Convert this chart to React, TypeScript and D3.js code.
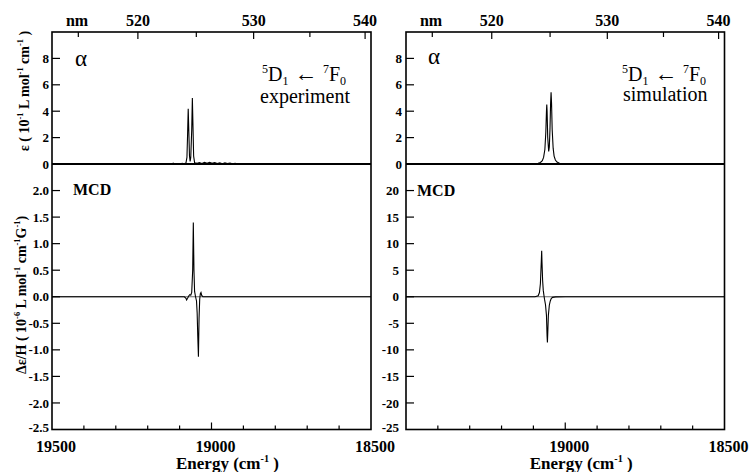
import React from 'react';
import * as d3 from 'd3';

// ---------- data ----------
const energyLabels = [19500, 19000, 18500];
const energyMinor = [19400, 19300, 19200, 19100, 18900, 18800, 18700, 18600];
const nmTicks = [515, 520, 525, 530, 535, 540];
const nmLabels = [520, 530, 540];
const absTicks = [0, 2, 4, 6, 8];
const mcdExpTicks = [2.0, 1.5, 1.0, 0.5, 0.0, -0.5, -1.0, -1.5, -2.0, -2.5];
const mcdSimTicks = [20, 15, 10, 5, 0, -5, -10, -15, -20, -25];

// [energy cm-1, epsilon]
const expAbs: [number, number][] = [
  [19500, 0], [19300, 0], [19125, 0], [19120, 0.06], [19116, 0], [19108, 0.04],
  [19100, 0], [19092, 0.05], [19086, 0.02], [19080, 0.08], [19077, 0.5], [19075, 2.2],
  [19073, 4.19], [19071, 2.4], [19069, 0.6], [19067, 0.2], [19065, 0.5], [19062, 2.6],
  [19060, 5.0], [19058, 2.8], [19056, 0.6], [19053, 0.1], [19045, 0.05], [19038, 0.1],
  [19030, 0.04], [19022, 0.12], [19014, 0.06], [19006, 0.13], [18998, 0.05], [18990, 0.1],
  [18982, 0.03], [18974, 0.09], [18966, 0.02], [18958, 0.08], [18950, 0.03], [18942, 0.07],
  [18934, 0.02], [18926, 0.06], [18918, 0], [18500, 0],
];
const expMcd: [number, number][] = [
  [19500, 0], [19100, 0], [19085, 0], [19080, -0.03], [19078, -0.06], [19075, -0.03],
  [19071, 0.02], [19068, 0.04], [19065, 0.03], [19062, 0.08], [19059, 0.5], [19057, 1.4],
  [19055, 0.5], [19053, 0.1], [19050, 0.0], [19047, -0.08], [19045, -0.3], [19043, -0.75],
  [19041, -1.13], [19039, -0.4], [19037, -0.05], [19035, 0.06], [19033, 0.08], [19031, 0.03],
  [19027, 0], [18500, 0],
];
const simAbs: [number, number][] = [
  [19500, 0], [19100, 0.02], [19085, 0.05], [19078, 0.12], [19072, 0.25], [19068, 0.5],
  [19064, 1.1], [19061, 2.4], [19059, 4.0], [19058, 4.5], [19057, 4.0], [19055, 2.0],
  [19052, 0.95], [19050, 1.3], [19048, 2.6], [19046, 4.6], [19044.5, 5.44], [19043, 4.6],
  [19041, 2.6], [19038, 1.2], [19035, 0.6], [19031, 0.3], [19026, 0.15], [19018, 0.06],
  [19000, 0.02], [18500, 0],
];
const simMcd: [number, number][] = [
  [19500, 0], [19095, 0], [19085, 0.2], [19081, 0.8], [19078, 2.5], [19075, 7.0],
  [19074, 8.66], [19073, 6.5], [19071, 3.0], [19069, 1.2], [19067, 0.3], [19065, -0.5],
  [19062, -1.5], [19059, -3.5], [19057, -7.5], [19056, -8.6], [19055, -7.0], [19053, -3.5],
  [19050, -1.6], [19047, -0.8], [19044, -0.35], [19040, -0.12], [19030, -0.03], [19000, 0],
  [18500, 0],
];

// ---------- layout ----------
const W = 749, H = 472;
const TOP = 32, MID = 164, BOT = 429.5;
const FONT = "'Liberation Serif', 'Times New Roman', serif";

type Seg = { t: string; s?: 'sup' | 'sub' | 'big' };
function rich(segs: Seg[], fs: number) {
  let cur = 0;
  return segs.map((sg, i) => {
    const target = sg.s === 'sup' ? -fs * 0.42 : sg.s === 'sub' ? fs * 0.2 : 0;
    const dy = target - cur;
    cur = target;
    const size = sg.s === 'big' ? fs * 1.15 : sg.s ? fs * 0.6 : fs;
    return (
      <tspan key={i} dy={dy} fontSize={size}>{sg.t}</tspan>
    );
  });
}

const absLabelSegs: Seg[] = [
  { t: 'ε ( 10' }, { t: '-1', s: 'sup' }, { t: ' L mol' }, { t: '-1', s: 'sup' },
  { t: ' cm' }, { t: '-1', s: 'sup' }, { t: ' )' },
];
const mcdLabelSegs: Seg[] = [
  { t: 'Δε/H ( 10' }, { t: '-6', s: 'sup' }, { t: ' L mol' }, { t: '-1', s: 'sup' },
  { t: ' cm' }, { t: '-1', s: 'sup' }, { t: 'G' }, { t: '-1', s: 'sup' }, { t: ')' },
];
const energySegs: Seg[] = [{ t: 'Energy (cm' }, { t: '-1', s: 'sup' }, { t: ' )' }];
const transSegs: Seg[] = [
  { t: '5', s: 'sup' }, { t: 'D' }, { t: '1', s: 'sub' }, { t: ' ← ', s: 'big' },
  { t: '7', s: 'sup' }, { t: 'F' }, { t: '0', s: 'sub' },
];

type PanelProps = {
  x0: number; x1: number; abs: [number, number][]; mcd: [number, number][];
  mcdTicks: number[]; mcdFmt: (v: number) => string; label: string;
  side: 'left' | 'right';
};

function Panel({ x0, x1, abs, mcd, mcdTicks, mcdFmt, label, side }: PanelProps) {
  const x = d3.scaleLinear().domain([19500, 18500]).range([x0, x1]);
  const yA = d3.scaleLinear().domain([0, 10]).range([MID, TOP]);
  const mMin = mcdTicks[mcdTicks.length - 1];
  const yM = d3.scaleLinear().domain([mMin, -mMin]).range([BOT, MID]);
  const lineA = d3.line<[number, number]>().x(d => x(d[0])).y(d => yA(d[1]));
  const lineM = d3.line<[number, number]>().x(d => x(d[0])).y(d => yM(d[1]));
  const labOff = side === 'left' ? 3 : 7;
  const isLeft = side === 'left';
  return (
    <g>
      {/* data */}
      <line x1={x0} x2={x1} y1={yM(0)} y2={yM(0)} stroke="#444" strokeWidth={0.8} />
      <path d={lineA(abs) || ''} fill="none" stroke="#000" strokeWidth={1.1} />
      <path d={lineM(mcd) || ''} fill="none" stroke="#000" strokeWidth={1.1} />
      {/* frame */}
      <rect x={x0} y={TOP} width={x1 - x0} height={BOT - TOP} fill="none" stroke="#000" strokeWidth={1.6} />
      <line x1={x0} x2={x1} y1={MID} y2={MID} stroke="#000" strokeWidth={1.8} />
      {/* bottom ticks */}
      {energyMinor.map(e => (
        <line key={'m' + e} x1={x(e)} x2={x(e)} y1={BOT} y2={BOT - 4} stroke="#000" strokeWidth={1.2} />
      ))}
      <line x1={x(19000)} x2={x(19000)} y1={BOT} y2={BOT - 7} stroke="#000" strokeWidth={1.2} />
      {energyLabels.filter(e => isLeft || e !== 19500).map(e => (
        <text key={'el' + e} x={x(e) + 4} y={452} textAnchor="middle" fontSize={16} fontWeight="bold" fontFamily={FONT}>{e}</text>
      ))}
      <text x={(x0 + x1) / 2 + 16} y={469} textAnchor="middle" fontSize={17} fontWeight="bold" fontFamily={FONT}>{rich(energySegs, 17)}</text>
      {/* top nm ticks */}
      {nmTicks.map(n => {
        const xe = x(1e7 / n);
        const major = nmLabels.includes(n);
        return <line key={'n' + n} x1={xe} x2={xe} y1={TOP} y2={TOP + (major ? 7 : 5)} stroke="#000" strokeWidth={1.2} />;
      })}
      {nmLabels.map(n => (
        <text key={'nl' + n} x={x(1e7 / n)} y={26} textAnchor="middle" fontSize={16} fontWeight="bold" fontFamily={FONT}>{n}</text>
      ))}
      <text x={x0 + 25} y={26} textAnchor="middle" fontSize={16} fontWeight="bold" fontFamily={FONT}>nm</text>
      {/* absorbance y axis */}
      {absTicks.filter(v => v > 0).map(v => (
        <line key={'at' + v} x1={x0} x2={x0 + 8} y1={yA(v)} y2={yA(v)} stroke="#000" strokeWidth={1.2} />
      ))}
      {absTicks.map(v => (
        <text key={'al' + v} x={x0 - labOff + (isLeft ? 0 : 3)} y={yA(v)} dy="0.35em" textAnchor="end" fontSize={13} fontWeight="bold" fontFamily={FONT}>{v}</text>
      ))}
      {/* mcd y axis */}
      {mcdTicks.filter(v => v !== mMin).map(v => (
        <line key={'mt' + v} x1={x0} x2={x0 + 8} y1={yM(v)} y2={yM(v)} stroke="#000" strokeWidth={1.2} />
      ))}
      {mcdTicks.map(v => (
        <text key={'ml' + v} x={x0 - labOff} y={yM(v) - (v === mMin ? 2 : 0)} dy="0.35em" textAnchor="end" fontSize={13} fontWeight="bold" fontFamily={FONT}>{mcdFmt(v)}</text>
      ))}
      {/* annotations */}
      <text x={isLeft ? x0 + 23 : x0 + 22} y={isLeft ? 66 : 64} fontSize={23} fontFamily={FONT}>α</text>
      <text x={isLeft ? 262 : 622} y={81} fontSize={20} fontFamily={FONT}>{rich(transSegs, 20)}</text>
      <text x={isLeft ? 260 : 623} y={isLeft ? 103 : 101} fontSize={20} fontFamily={FONT}>{label}</text>
      <text x={isLeft ? x0 + 21 : x0 + 11} y={isLeft ? 195 : 196} fontSize={16} fontWeight="bold" fontFamily={FONT}>MCD</text>
    </g>
  );
}

export default function App() {
  return (
    <div style={{ position: 'absolute', left: 0, top: 0 }}>
      <svg width={W} height={H} style={{ display: 'block', background: '#fff' }}>
        <rect x={0} y={0} width={W} height={H} fill="#fff" />
        <Panel x0={52} x1={371} abs={expAbs} mcd={expMcd} mcdTicks={mcdExpTicks}
          mcdFmt={v => v.toFixed(1)} label="experiment" side="left" />
        <Panel x0={406} x1={724.5} abs={simAbs} mcd={simMcd} mcdTicks={mcdSimTicks}
          mcdFmt={v => String(v)} label="simulation" side="right" />
        <text transform="translate(29,91) rotate(-90)" textAnchor="middle" fontSize={14} fontWeight="bold" fontFamily={FONT}>{rich(absLabelSegs, 14)}</text>
        <text transform="translate(26,295) rotate(-90)" textAnchor="middle" fontSize={14} fontWeight="bold" fontFamily={FONT}>{rich(mcdLabelSegs, 14)}</text>
      </svg>
    </div>
  );
}
